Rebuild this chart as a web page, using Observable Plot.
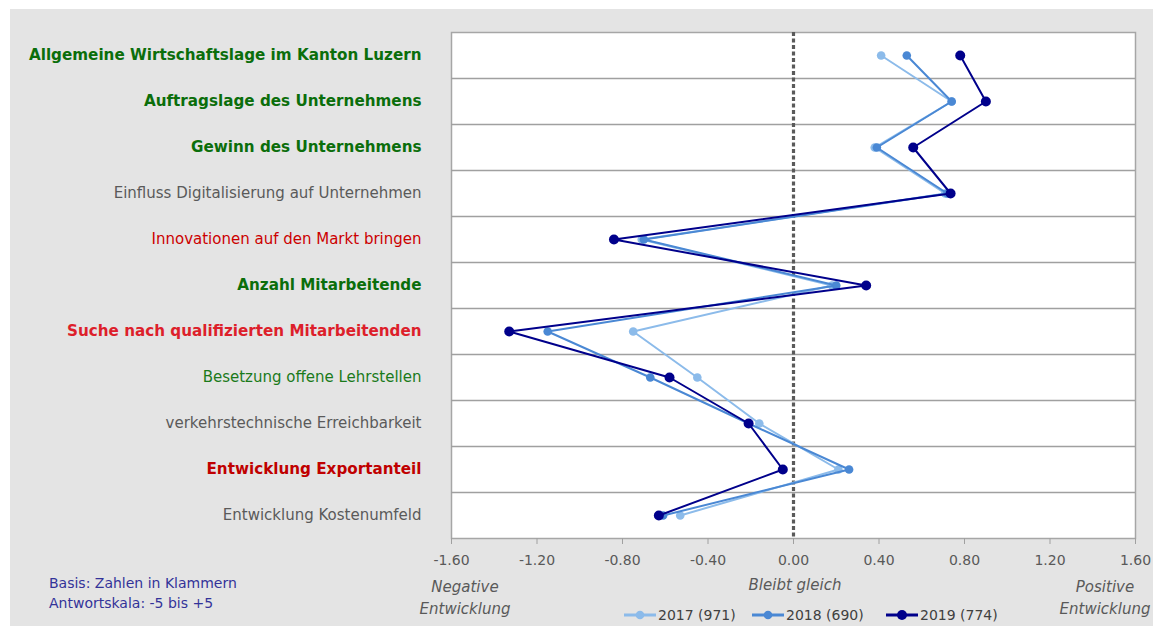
<!DOCTYPE html>
<html><head><meta charset="utf-8">
<script src="https://cdn.jsdelivr.net/npm/d3@7"></script>
<script src="https://cdn.jsdelivr.net/npm/@observablehq/plot@0.6"></script>
<style>
body{margin:0;background:#fff;width:1159px;height:626px;overflow:hidden;position:relative;font-family:"DejaVu Sans",sans-serif;}
#bg{position:absolute;left:10px;top:9px;width:1143px;height:617px;background:#e4e4e4;}
#chart{position:absolute;left:0;top:0;}
.t{position:absolute;white-space:nowrap;line-height:22px;}
.it{font-style:italic;color:#595959;font-size:15px;text-align:center;}
.note{color:#333399;font-size:14px;line-height:20px;left:49px;top:573px;}
.leg{top:604px;font-size:14px;color:#404040;display:flex;align-items:center;}
.leg svg{margin-right:2px;}
</style></head><body>
<div id="bg"></div>
<div id="chart"></div>
<div class="t it" style="left:410px;top:576px;width:110px;">Negative<br>Entwicklung</div>
<div class="t it" style="left:740px;top:574px;width:110px;">Bleibt gleich</div>
<div class="t it" style="left:1050px;top:576px;width:110px;">Positive<br>Entwicklung</div>
<div class="t note">Basis: Zahlen in Klammern<br>Antwortskala: -5 bis +5</div>
<div id="legend"></div>
<script>
const categories = [
  "Allgemeine Wirtschaftslage im Kanton Luzern",
  "Auftragslage des Unternehmens",
  "Gewinn des Unternehmens",
  "Einfluss Digitalisierung auf Unternehmen",
  "Innovationen auf den Markt bringen",
  "Anzahl Mitarbeitende",
  "Suche nach qualifizierten Mitarbeitenden",
  "Besetzung offene Lehrstellen",
  "verkehrstechnische Erreichbarkeit",
  "Entwicklung Exportanteil",
  "Entwicklung Kostenumfeld"
];
const years = ["2017 (971)", "2018 (690)", "2019 (774)"];
const values2017 = [0.41, 0.74, 0.38, 0.71, -0.71, 0.18, -0.75, -0.45, -0.16, 0.21, -0.53];
const values2018 = [0.53, 0.74, 0.39, 0.72, -0.70, 0.20, -1.15, -0.67, -0.21, 0.26, -0.61];
const values2019 = [0.78, 0.90, 0.56, 0.735, -0.84, 0.34, -1.33, -0.58, -0.21, -0.05, -0.63];
const xTicks = [-1.6, -1.2, -0.8, -0.4, 0, 0.4, 0.8, 1.2, 1.6];

// styles (kept separate from data)
const seriesColors = ["#8cbbea", "#4a88d4", "#00008b"];
const dotR = [4.3, 4.3, 5];
const labelStyle = {
  "Allgemeine Wirtschaftslage im Kanton Luzern": ["#0b6e0b", true],
  "Auftragslage des Unternehmens": ["#0b6e0b", true],
  "Gewinn des Unternehmens": ["#0b6e0b", true],
  "Einfluss Digitalisierung auf Unternehmen": ["#5a5a5a", false],
  "Innovationen auf den Markt bringen": ["#cc0000", false],
  "Anzahl Mitarbeitende": ["#0b6e0b", true],
  "Suche nach qualifizierten Mitarbeitenden": ["#dd1f2b", true],
  "Besetzung offene Lehrstellen": ["#1a7a1a", false],
  "verkehrstechnische Erreichbarkeit": ["#5a5a5a", false],
  "Entwicklung Exportanteil": ["#c00000", true],
  "Entwicklung Kostenumfeld": ["#5a5a5a", false]
};

const series = [values2017, values2018, values2019];
const data = [];
years.forEach((yr, k) => series[k].forEach((v, i) => data.push({year: yr, cat: categories[i], value: v})));

const W = 1159, H = 626, mL = 451, mR = 24, mT = 32, mB = 88;
const bw = (H - mT - mB) / categories.length;
const boldCats = categories.filter(c => labelStyle[c][1]);
const normCats = categories.filter(c => !labelStyle[c][1]);

const seriesMarks = [];
years.forEach((yr, k) => {
  const d = data.filter(r => r.year === yr);
  seriesMarks.push(Plot.line(d, {x: "value", y: "cat", stroke: seriesColors[k], strokeWidth: 2}));
  seriesMarks.push(Plot.dot(d, {x: "value", y: "cat", fill: seriesColors[k], r: dotR[k]}));
});

const chart = Plot.plot({
  width: W, height: H,
  marginLeft: mL, marginRight: mR, marginTop: mT, marginBottom: mB,
  style: {background: "transparent", fontFamily: "DejaVu Sans, sans-serif"},
  x: {domain: [-1.6, 1.6]},
  y: {type: "band", domain: categories, padding: 0, round: false},
  marks: [
    Plot.frame({fill: "white", stroke: "#a6a6a6", strokeWidth: 1.5}),
    Plot.ruleY(categories.slice(1), {y: d => d, dy: -bw / 2, stroke: "#a0a0a0", strokeWidth: 1.3}),
    Plot.ruleX([0], {stroke: "#5a5a5a", strokeWidth: 3.2, strokeDasharray: "4,2.5"}),
    Plot.axisX(xTicks, {tickFormat: d => d.toFixed(2), tickSize: 6, tickPadding: 11, stroke: "#a0a0a0", fill: "#595959", fontSize: 14, label: null}),
    Plot.axisY(boldCats, {tickSize: 0, tickPadding: 30, fontWeight: "bold", fontSize: 15.2, fill: d => labelStyle[d][0], label: null}),
    Plot.axisY(normCats, {tickSize: 0, tickPadding: 30, fontSize: 15, fill: d => labelStyle[d][0], label: null}),
    ...seriesMarks
  ]
});
document.getElementById("chart").appendChild(chart);

const leg = document.getElementById("legend");
const legX = [624, 752, 886];
years.forEach((yr, k) => {
  const el = document.createElement("div");
  el.className = "t leg";
  el.style.left = legX[k] + "px";
  el.innerHTML = `<svg width="32" height="10"><line x1="0" y1="5" x2="32" y2="5" stroke="${seriesColors[k]}" stroke-width="3"/><circle cx="16" cy="5" r="${dotR[k]}" fill="${seriesColors[k]}"/></svg>${yr}`;
  leg.appendChild(el);
});
</script>
</body></html>
